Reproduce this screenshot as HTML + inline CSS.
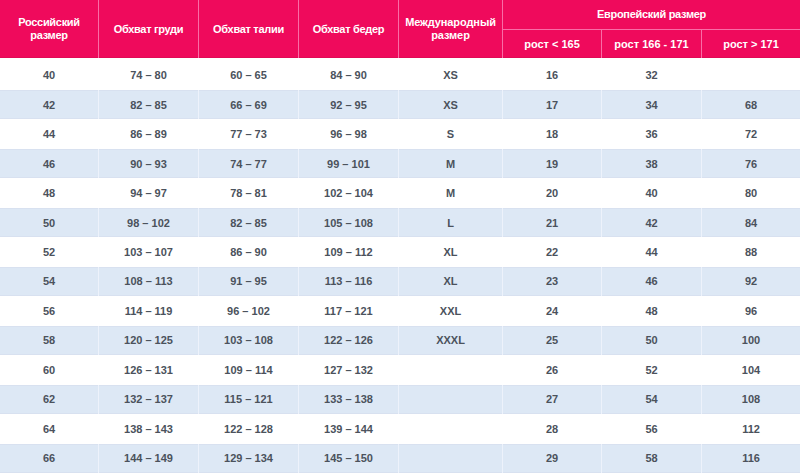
<!DOCTYPE html>
<html><head><meta charset="utf-8"><style>
*{margin:0;padding:0;box-sizing:border-box}
html,body{width:800px;height:473px;overflow:hidden;background:#fff}
body{position:relative;font-family:"Liberation Sans",Arial,sans-serif;font-weight:bold;}
.hd{position:absolute;left:0;top:0;width:800px;height:58px;background:#ef0a5c}
.vl{position:absolute;top:0;width:1px;height:58px;background:#f96ca6}
.hl{position:absolute;height:1px;background:#f96ca6}
.ht{position:absolute;color:#fff;font-size:11px;line-height:13px;letter-spacing:-0.3px;text-align:center;display:flex;align-items:center;justify-content:center}
.r{position:absolute;left:0;width:800px}
.b{background:#dde8f5;box-shadow:inset 0 1px 0 #d8e1f0,inset 0 -1px 0 #d8e1f0}
.bv{position:absolute;width:1px;background:#edf2fb}
.c{position:absolute;color:#4b525c;font-size:11px;text-align:center;display:flex;align-items:center;justify-content:center}
</style></head><body>
<div class="hd"></div>
<div style="position:absolute;left:0;top:57px;width:800px;height:1px;background:#e00b56"></div>

<div class="vl" style="left:98px"></div>
<div class="vl" style="left:198px"></div>
<div class="vl" style="left:298px"></div>
<div class="vl" style="left:398px"></div>
<div class="vl" style="left:502px"></div>
<div class="vl" style="left:601px;top:29px;height:29px"></div>
<div class="vl" style="left:701px;top:29px;height:29px"></div>
<div class="hl" style="left:502px;top:29px;width:298px"></div>
<div class="ht" style="left:0px;top:0;width:98px;height:58px">Российский<br>размер</div>
<div class="ht" style="left:99px;top:0;width:99px;height:58px">Обхват груди</div>
<div class="ht" style="left:199px;top:0;width:99px;height:58px">Обхват талии</div>
<div class="ht" style="left:299px;top:0;width:99px;height:58px">Обхват бедер</div>
<div class="ht" style="left:399px;top:0;width:103px;height:58px"><span style='letter-spacing:-0.1px'>Международный<br>размер</span></div>
<div class="ht" style="left:503px;top:0;width:297px;height:29px">Европейский размер</div>
<div class="ht" style="left:503px;top:30px;width:98px;height:28px;letter-spacing:0">рост &lt; 165</div>
<div class="ht" style="left:602px;top:30px;width:99px;height:28px;letter-spacing:0">рост 166 - 171</div>
<div class="ht" style="left:702px;top:30px;width:98px;height:28px;letter-spacing:0">рост &gt; 171</div>
<div class="c" style="left:0px;top:58px;width:98px;height:32px;padding-top:1px;">40</div>
<div class="c" style="left:99px;top:58px;width:99px;height:32px;padding-top:1px;">74 – 80</div>
<div class="c" style="left:199px;top:58px;width:99px;height:32px;padding-top:1px;">60 – 65</div>
<div class="c" style="left:299px;top:58px;width:99px;height:32px;padding-top:1px;">84 – 90</div>
<div class="c" style="left:399px;top:58px;width:103px;height:32px;padding-top:1px;">XS</div>
<div class="c" style="left:503px;top:58px;width:98px;height:32px;padding-top:1px;">16</div>
<div class="c" style="left:602px;top:58px;width:99px;height:32px;padding-top:1px;">32</div>
<div class="r b" style="top:90px;height:29.459999999999994px"></div>
<div class="bv" style="left:98px;top:90px;height:29.459999999999994px"></div>
<div class="bv" style="left:198px;top:90px;height:29.459999999999994px"></div>
<div class="bv" style="left:298px;top:90px;height:29.459999999999994px"></div>
<div class="bv" style="left:398px;top:90px;height:29.459999999999994px"></div>
<div class="bv" style="left:502px;top:90px;height:29.459999999999994px"></div>
<div class="bv" style="left:601px;top:90px;height:29.459999999999994px"></div>
<div class="bv" style="left:701px;top:90px;height:29.459999999999994px"></div>
<div class="c" style="left:0px;top:90px;width:98px;height:29.459999999999994px;">42</div>
<div class="c" style="left:99px;top:90px;width:99px;height:29.459999999999994px;">82 – 85</div>
<div class="c" style="left:199px;top:90px;width:99px;height:29.459999999999994px;">66 – 69</div>
<div class="c" style="left:299px;top:90px;width:99px;height:29.459999999999994px;">92 – 95</div>
<div class="c" style="left:399px;top:90px;width:103px;height:29.459999999999994px;">XS</div>
<div class="c" style="left:503px;top:90px;width:98px;height:29.459999999999994px;">17</div>
<div class="c" style="left:602px;top:90px;width:99px;height:29.459999999999994px;">34</div>
<div class="c" style="left:702px;top:90px;width:98px;height:29.459999999999994px;">68</div>
<div class="c" style="left:0px;top:119.46px;width:98px;height:29.459999999999994px;">44</div>
<div class="c" style="left:99px;top:119.46px;width:99px;height:29.459999999999994px;">86 – 89</div>
<div class="c" style="left:199px;top:119.46px;width:99px;height:29.459999999999994px;">77 – 73</div>
<div class="c" style="left:299px;top:119.46px;width:99px;height:29.459999999999994px;">96 – 98</div>
<div class="c" style="left:399px;top:119.46px;width:103px;height:29.459999999999994px;">S</div>
<div class="c" style="left:503px;top:119.46px;width:98px;height:29.459999999999994px;">18</div>
<div class="c" style="left:602px;top:119.46px;width:99px;height:29.459999999999994px;">36</div>
<div class="c" style="left:702px;top:119.46px;width:98px;height:29.459999999999994px;">72</div>
<div class="r b" style="top:148.92px;height:29.460000000000008px"></div>
<div class="bv" style="left:98px;top:148.92px;height:29.460000000000008px"></div>
<div class="bv" style="left:198px;top:148.92px;height:29.460000000000008px"></div>
<div class="bv" style="left:298px;top:148.92px;height:29.460000000000008px"></div>
<div class="bv" style="left:398px;top:148.92px;height:29.460000000000008px"></div>
<div class="bv" style="left:502px;top:148.92px;height:29.460000000000008px"></div>
<div class="bv" style="left:601px;top:148.92px;height:29.460000000000008px"></div>
<div class="bv" style="left:701px;top:148.92px;height:29.460000000000008px"></div>
<div class="c" style="left:0px;top:148.92px;width:98px;height:29.460000000000008px;">46</div>
<div class="c" style="left:99px;top:148.92px;width:99px;height:29.460000000000008px;">90 – 93</div>
<div class="c" style="left:199px;top:148.92px;width:99px;height:29.460000000000008px;">74 – 77</div>
<div class="c" style="left:299px;top:148.92px;width:99px;height:29.460000000000008px;">99 – 101</div>
<div class="c" style="left:399px;top:148.92px;width:103px;height:29.460000000000008px;">M</div>
<div class="c" style="left:503px;top:148.92px;width:98px;height:29.460000000000008px;">19</div>
<div class="c" style="left:602px;top:148.92px;width:99px;height:29.460000000000008px;">38</div>
<div class="c" style="left:702px;top:148.92px;width:98px;height:29.460000000000008px;">76</div>
<div class="c" style="left:0px;top:178.38px;width:98px;height:29.460000000000008px;">48</div>
<div class="c" style="left:99px;top:178.38px;width:99px;height:29.460000000000008px;">94 – 97</div>
<div class="c" style="left:199px;top:178.38px;width:99px;height:29.460000000000008px;">78 – 81</div>
<div class="c" style="left:299px;top:178.38px;width:99px;height:29.460000000000008px;">102 – 104</div>
<div class="c" style="left:399px;top:178.38px;width:103px;height:29.460000000000008px;">M</div>
<div class="c" style="left:503px;top:178.38px;width:98px;height:29.460000000000008px;">20</div>
<div class="c" style="left:602px;top:178.38px;width:99px;height:29.460000000000008px;">40</div>
<div class="c" style="left:702px;top:178.38px;width:98px;height:29.460000000000008px;">80</div>
<div class="r b" style="top:207.84px;height:29.460000000000008px"></div>
<div class="bv" style="left:98px;top:207.84px;height:29.460000000000008px"></div>
<div class="bv" style="left:198px;top:207.84px;height:29.460000000000008px"></div>
<div class="bv" style="left:298px;top:207.84px;height:29.460000000000008px"></div>
<div class="bv" style="left:398px;top:207.84px;height:29.460000000000008px"></div>
<div class="bv" style="left:502px;top:207.84px;height:29.460000000000008px"></div>
<div class="bv" style="left:601px;top:207.84px;height:29.460000000000008px"></div>
<div class="bv" style="left:701px;top:207.84px;height:29.460000000000008px"></div>
<div class="c" style="left:0px;top:207.84px;width:98px;height:29.460000000000008px;">50</div>
<div class="c" style="left:99px;top:207.84px;width:99px;height:29.460000000000008px;">98 – 102</div>
<div class="c" style="left:199px;top:207.84px;width:99px;height:29.460000000000008px;">82 – 85</div>
<div class="c" style="left:299px;top:207.84px;width:99px;height:29.460000000000008px;">105 – 108</div>
<div class="c" style="left:399px;top:207.84px;width:103px;height:29.460000000000008px;">L</div>
<div class="c" style="left:503px;top:207.84px;width:98px;height:29.460000000000008px;">21</div>
<div class="c" style="left:602px;top:207.84px;width:99px;height:29.460000000000008px;">42</div>
<div class="c" style="left:702px;top:207.84px;width:98px;height:29.460000000000008px;">84</div>
<div class="c" style="left:0px;top:237.3px;width:98px;height:29.45999999999998px;">52</div>
<div class="c" style="left:99px;top:237.3px;width:99px;height:29.45999999999998px;">103 – 107</div>
<div class="c" style="left:199px;top:237.3px;width:99px;height:29.45999999999998px;">86 – 90</div>
<div class="c" style="left:299px;top:237.3px;width:99px;height:29.45999999999998px;">109 – 112</div>
<div class="c" style="left:399px;top:237.3px;width:103px;height:29.45999999999998px;">XL</div>
<div class="c" style="left:503px;top:237.3px;width:98px;height:29.45999999999998px;">22</div>
<div class="c" style="left:602px;top:237.3px;width:99px;height:29.45999999999998px;">44</div>
<div class="c" style="left:702px;top:237.3px;width:98px;height:29.45999999999998px;">88</div>
<div class="r b" style="top:266.76px;height:29.460000000000036px"></div>
<div class="bv" style="left:98px;top:266.76px;height:29.460000000000036px"></div>
<div class="bv" style="left:198px;top:266.76px;height:29.460000000000036px"></div>
<div class="bv" style="left:298px;top:266.76px;height:29.460000000000036px"></div>
<div class="bv" style="left:398px;top:266.76px;height:29.460000000000036px"></div>
<div class="bv" style="left:502px;top:266.76px;height:29.460000000000036px"></div>
<div class="bv" style="left:601px;top:266.76px;height:29.460000000000036px"></div>
<div class="bv" style="left:701px;top:266.76px;height:29.460000000000036px"></div>
<div class="c" style="left:0px;top:266.76px;width:98px;height:29.460000000000036px;">54</div>
<div class="c" style="left:99px;top:266.76px;width:99px;height:29.460000000000036px;">108 – 113</div>
<div class="c" style="left:199px;top:266.76px;width:99px;height:29.460000000000036px;">91 – 95</div>
<div class="c" style="left:299px;top:266.76px;width:99px;height:29.460000000000036px;">113 – 116</div>
<div class="c" style="left:399px;top:266.76px;width:103px;height:29.460000000000036px;">XL</div>
<div class="c" style="left:503px;top:266.76px;width:98px;height:29.460000000000036px;">23</div>
<div class="c" style="left:602px;top:266.76px;width:99px;height:29.460000000000036px;">46</div>
<div class="c" style="left:702px;top:266.76px;width:98px;height:29.460000000000036px;">92</div>
<div class="c" style="left:0px;top:296.22px;width:98px;height:29.45999999999998px;">56</div>
<div class="c" style="left:99px;top:296.22px;width:99px;height:29.45999999999998px;">114 – 119</div>
<div class="c" style="left:199px;top:296.22px;width:99px;height:29.45999999999998px;">96 – 102</div>
<div class="c" style="left:299px;top:296.22px;width:99px;height:29.45999999999998px;">117 – 121</div>
<div class="c" style="left:399px;top:296.22px;width:103px;height:29.45999999999998px;">XXL</div>
<div class="c" style="left:503px;top:296.22px;width:98px;height:29.45999999999998px;">24</div>
<div class="c" style="left:602px;top:296.22px;width:99px;height:29.45999999999998px;">48</div>
<div class="c" style="left:702px;top:296.22px;width:98px;height:29.45999999999998px;">96</div>
<div class="r b" style="top:325.68px;height:29.45999999999998px"></div>
<div class="bv" style="left:98px;top:325.68px;height:29.45999999999998px"></div>
<div class="bv" style="left:198px;top:325.68px;height:29.45999999999998px"></div>
<div class="bv" style="left:298px;top:325.68px;height:29.45999999999998px"></div>
<div class="bv" style="left:398px;top:325.68px;height:29.45999999999998px"></div>
<div class="bv" style="left:502px;top:325.68px;height:29.45999999999998px"></div>
<div class="bv" style="left:601px;top:325.68px;height:29.45999999999998px"></div>
<div class="bv" style="left:701px;top:325.68px;height:29.45999999999998px"></div>
<div class="c" style="left:0px;top:325.68px;width:98px;height:29.45999999999998px;">58</div>
<div class="c" style="left:99px;top:325.68px;width:99px;height:29.45999999999998px;">120 – 125</div>
<div class="c" style="left:199px;top:325.68px;width:99px;height:29.45999999999998px;">103 – 108</div>
<div class="c" style="left:299px;top:325.68px;width:99px;height:29.45999999999998px;">122 – 126</div>
<div class="c" style="left:399px;top:325.68px;width:103px;height:29.45999999999998px;">XXXL</div>
<div class="c" style="left:503px;top:325.68px;width:98px;height:29.45999999999998px;">25</div>
<div class="c" style="left:602px;top:325.68px;width:99px;height:29.45999999999998px;">50</div>
<div class="c" style="left:702px;top:325.68px;width:98px;height:29.45999999999998px;">100</div>
<div class="c" style="left:0px;top:355.14px;width:98px;height:29.460000000000036px;">60</div>
<div class="c" style="left:99px;top:355.14px;width:99px;height:29.460000000000036px;">126 – 131</div>
<div class="c" style="left:199px;top:355.14px;width:99px;height:29.460000000000036px;">109 – 114</div>
<div class="c" style="left:299px;top:355.14px;width:99px;height:29.460000000000036px;">127 – 132</div>
<div class="c" style="left:503px;top:355.14px;width:98px;height:29.460000000000036px;">26</div>
<div class="c" style="left:602px;top:355.14px;width:99px;height:29.460000000000036px;">52</div>
<div class="c" style="left:702px;top:355.14px;width:98px;height:29.460000000000036px;">104</div>
<div class="r b" style="top:384.6px;height:29.45999999999998px"></div>
<div class="bv" style="left:98px;top:384.6px;height:29.45999999999998px"></div>
<div class="bv" style="left:198px;top:384.6px;height:29.45999999999998px"></div>
<div class="bv" style="left:298px;top:384.6px;height:29.45999999999998px"></div>
<div class="bv" style="left:398px;top:384.6px;height:29.45999999999998px"></div>
<div class="bv" style="left:502px;top:384.6px;height:29.45999999999998px"></div>
<div class="bv" style="left:601px;top:384.6px;height:29.45999999999998px"></div>
<div class="bv" style="left:701px;top:384.6px;height:29.45999999999998px"></div>
<div class="c" style="left:0px;top:384.6px;width:98px;height:29.45999999999998px;">62</div>
<div class="c" style="left:99px;top:384.6px;width:99px;height:29.45999999999998px;">132 – 137</div>
<div class="c" style="left:199px;top:384.6px;width:99px;height:29.45999999999998px;">115 – 121</div>
<div class="c" style="left:299px;top:384.6px;width:99px;height:29.45999999999998px;">133 – 138</div>
<div class="c" style="left:503px;top:384.6px;width:98px;height:29.45999999999998px;">27</div>
<div class="c" style="left:602px;top:384.6px;width:99px;height:29.45999999999998px;">54</div>
<div class="c" style="left:702px;top:384.6px;width:98px;height:29.45999999999998px;">108</div>
<div class="c" style="left:0px;top:414.06px;width:98px;height:29.45999999999998px;">64</div>
<div class="c" style="left:99px;top:414.06px;width:99px;height:29.45999999999998px;">138 – 143</div>
<div class="c" style="left:199px;top:414.06px;width:99px;height:29.45999999999998px;">122 – 128</div>
<div class="c" style="left:299px;top:414.06px;width:99px;height:29.45999999999998px;">139 – 144</div>
<div class="c" style="left:503px;top:414.06px;width:98px;height:29.45999999999998px;">28</div>
<div class="c" style="left:602px;top:414.06px;width:99px;height:29.45999999999998px;">56</div>
<div class="c" style="left:702px;top:414.06px;width:98px;height:29.45999999999998px;">112</div>
<div class="r b" style="top:443.52px;height:29.480000000000018px"></div>
<div class="bv" style="left:98px;top:443.52px;height:29.480000000000018px"></div>
<div class="bv" style="left:198px;top:443.52px;height:29.480000000000018px"></div>
<div class="bv" style="left:298px;top:443.52px;height:29.480000000000018px"></div>
<div class="bv" style="left:398px;top:443.52px;height:29.480000000000018px"></div>
<div class="bv" style="left:502px;top:443.52px;height:29.480000000000018px"></div>
<div class="bv" style="left:601px;top:443.52px;height:29.480000000000018px"></div>
<div class="bv" style="left:701px;top:443.52px;height:29.480000000000018px"></div>
<div class="c" style="left:0px;top:443.52px;width:98px;height:29.480000000000018px;">66</div>
<div class="c" style="left:99px;top:443.52px;width:99px;height:29.480000000000018px;">144 – 149</div>
<div class="c" style="left:199px;top:443.52px;width:99px;height:29.480000000000018px;">129 – 134</div>
<div class="c" style="left:299px;top:443.52px;width:99px;height:29.480000000000018px;">145 – 150</div>
<div class="c" style="left:503px;top:443.52px;width:98px;height:29.480000000000018px;">29</div>
<div class="c" style="left:602px;top:443.52px;width:99px;height:29.480000000000018px;">58</div>
<div class="c" style="left:702px;top:443.52px;width:98px;height:29.480000000000018px;">116</div>
</body></html>
